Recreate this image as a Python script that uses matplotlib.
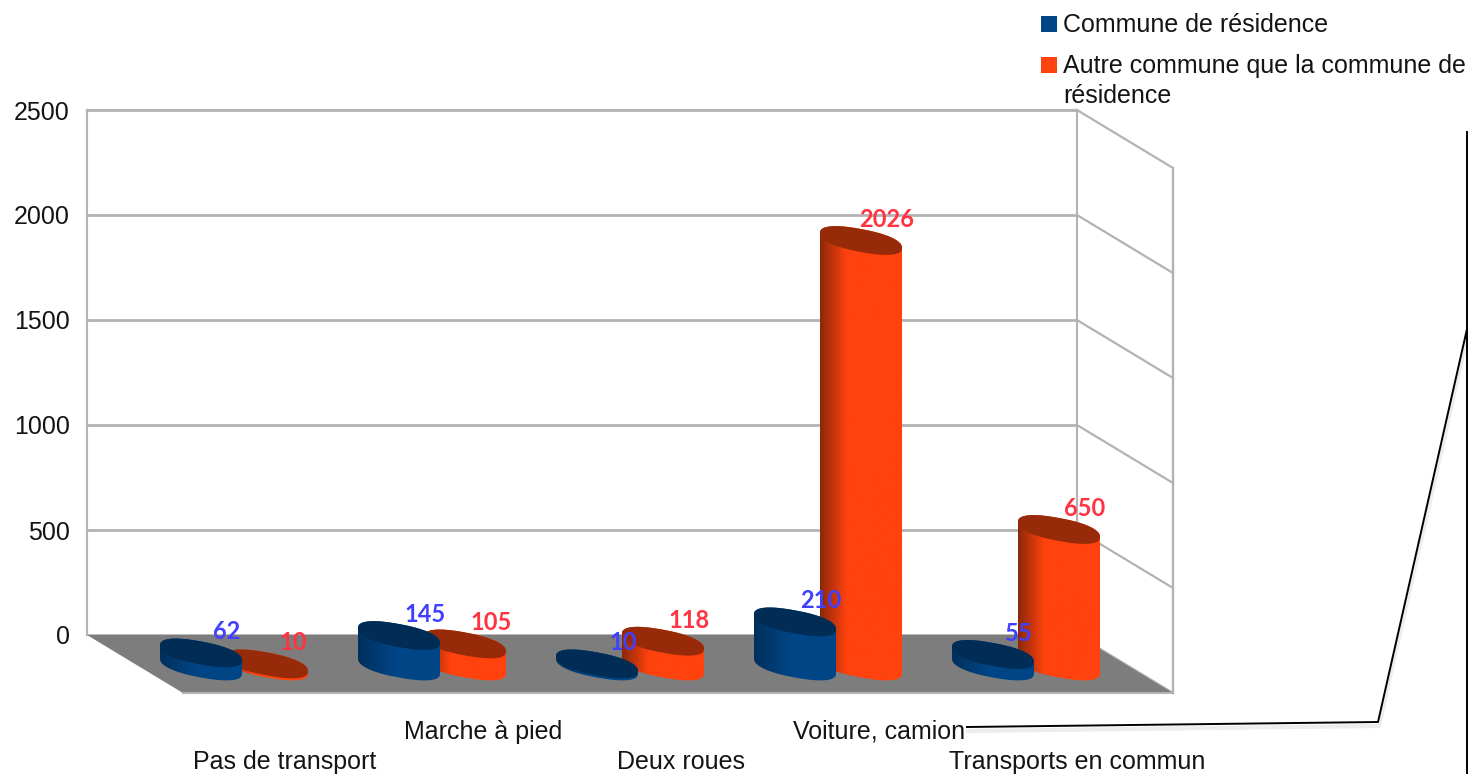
import numpy as np
import matplotlib
matplotlib.use("Agg")
import matplotlib.pyplot as plt
from matplotlib.lines import Line2D
from matplotlib.patches import PathPatch, Polygon, Rectangle
from matplotlib.path import Path
from matplotlib.colors import LinearSegmentedColormap
from matplotlib.transforms import IdentityTransform

categories = ["Pas de transport", "Marche à pied", "Deux roues", "Voiture, camion", "Transports en commun"]
commune = [62, 145, 10, 210, 55]
autre = [10, 105, 118, 2026, 650]
y_ticks = [0, 500, 1000, 1500, 2000, 2500]
series_names = ["Commune de résidence", "Autre commune que la commune de\nrésidence"]

W, H = 1468, 774
plt.rcParams["font.family"] = ["Liberation Sans", "DejaVu Sans"]
TEXT = "#141414"
GRID = "#b3b3b3"
FLOOR = "#7d7d7d"
FS = 18

fig = plt.figure(figsize=(W / 100, H / 100), dpi=100, facecolor="white")
ax = fig.add_axes([87 / W, 1 - 635 / H, 990 / W, 525 / H])
ax.set_facecolor("white")
XMAX, YMAX = 5, 2500
PX = XMAX / 990      # data units in one pixel, horizontally
PY = YMAX / 525      # data units in one pixel, vertically

# Value axis and back wall
ax.set_yticks(y_ticks)
ax.tick_params(axis="y", length=0, pad=12.5, labelsize=FS, labelcolor=TEXT)
ax.grid(axis="y", color=GRID, lw=2.0, zorder=1)
ax.set_axisbelow(True)
for name, sp in ax.spines.items():
    sp.set_color(GRID)
    sp.set_linewidth(1.5)
    sp.set_zorder(1.5)
ax.spines["bottom"].set_visible(False)

# Floor and right wall (depth projection)
DX, DY = 96 * PX, 58 * PY
ax.add_patch(Polygon([(0, 0), (XMAX, 0), (XMAX + DX, -DY), (DX, -DY)], closed=True,
                     facecolor=FLOOR, edgecolor="none", clip_on=False, zorder=2))
ax.plot([DX, XMAX + DX], [-DY, -DY], color=GRID, lw=1.5, clip_on=False, zorder=2.1)
ax.plot([XMAX, XMAX], [0, YMAX], color=GRID, lw=2.0, zorder=1.6)
ax.plot([XMAX + DX, XMAX + DX], [-DY, YMAX - DY], color=GRID, lw=1.7, clip_on=False, zorder=1.6)
for v in y_ticks:
    ax.plot([XMAX, XMAX + DX], [v, v - DY], color=GRID, lw=1.6, clip_on=False, zorder=1.6)

# Cylinders
HALF = 41 * PX
SHEAR = 7.5 * PY
MINOR = 11.5 * PY
BASE_DEPTH = 31 * PY
SLOT = 0.5 + 48 * PX
GAP = 33 * PX
ROUND = 0.85   # below 1 the cap outline gets slightly squarer, as in the picture

blue_cmap = LinearSegmentedColormap.from_list("b", [(0, "#00305c"), (0.45, "#004586"), (1, "#004586")])
red_cmap = LinearSegmentedColormap.from_list("r", [(0, "#8c2808"), (0.32, "#ff420e"), (1, "#ff420e")])
grad = np.linspace(0, 1, 128).reshape(1, -1)


def ellipse(cx, cy, t):
    u = np.sign(np.cos(t)) * np.abs(np.cos(t)) ** ROUND
    w = np.sign(np.sin(t)) * np.abs(np.sin(t)) ** ROUND
    return np.c_[cx + HALF * u, cy - SHEAR * u - MINOR * w]


def cylinder(cx, value, cmap, top_color, z):
    base = -BASE_DEPTH
    top = value - BASE_DEPTH
    upper = ellipse(cx, top, np.linspace(np.pi, 2 * np.pi, 60))
    lower = ellipse(cx, base, np.linspace(0, np.pi, 60))
    outline = np.vstack([upper, lower, upper[:1]])
    clip = PathPatch(Path(outline), transform=ax.transData, facecolor="none", edgecolor="none")
    im = ax.imshow(grad, cmap=cmap, vmin=0, vmax=1, aspect="auto", interpolation="bilinear",
                   extent=[cx - HALF, cx + HALF, base - 25 * PY, top + 25 * PY], zorder=z)
    im.set_clip_box(fig.bbox)
    im.set_clip_path(clip)
    ring = ellipse(cx, top, np.linspace(0, 2 * np.pi, 160))
    ax.add_patch(Polygon(ring, closed=True, facecolor=top_color, edgecolor="none",
                         clip_on=False, zorder=z + 0.1))


for i in range(len(categories)):
    cylinder(i + SLOT + GAP, autre[i], red_cmap, "#972a08", 3 + i * 0.01)
    cylinder(i + SLOT - GAP, commune[i], blue_cmap, "#002c55", 4 + i * 0.01)

# Data labels
for i in range(len(categories)):
    for val, off, col in ((commune[i], -GAP, "#4040ff"), (autre[i], GAP, "#ff3342")):
        ax.text(i + SLOT + off + 26 * PX, val - BASE_DEPTH + 21 * PY, str(val), color=col,
                family="Lato", fontweight="bold", fontsize=17, ha="center", va="center",
                zorder=8, clip_on=False)

# Category axis: labels alternate between two rows
ax.set_xticks(np.arange(1, len(categories) + 1), categories)
ax.tick_params(axis="x", length=0, labelsize=FS, labelcolor=TEXT)
for i, tick in enumerate(ax.xaxis.get_major_ticks()):
    tick.set_pad(82.5 if i % 2 == 0 else 61)

ax.set_xlim(0, XMAX)
ax.set_ylim(0, YMAX)

# Legend
px = IdentityTransform()


def fy(y):
    return H - y


legend_colors = ["#004586", "#ff420e"]
for (top, col) in zip((16, 57), legend_colors):
    fig.add_artist(Rectangle((1041, fy(top + 16)), 16, 16, transform=px, facecolor=col, edgecolor="none"))
fig.text(1063, fy(25), series_names[0], transform=px, fontsize=FS, color=TEXT, va="center", ha="left")
fig.text(1063, fy(81), series_names[1], transform=px, fontsize=FS, color=TEXT, va="center", ha="left",
         linespacing=1.3)

# Stray black connector lines with a faint shadow
conn_x = [967, 1378, 1467]
conn_y = [727, 722, 329]
vert_x = [1467, 1467]
vert_y = [132, 774]
for xs, ys in ((conn_x, conn_y), (vert_x, vert_y)):
    fig.add_artist(Line2D(np.array(xs) + 1, fy(np.array(ys) + 4), transform=px, color="#000000",
                          alpha=0.07, lw=3))
    fig.add_artist(Line2D(xs, fy(np.array(ys)), transform=px, color="black", lw=1.4))

fig.savefig("out.png", dpi=100)
